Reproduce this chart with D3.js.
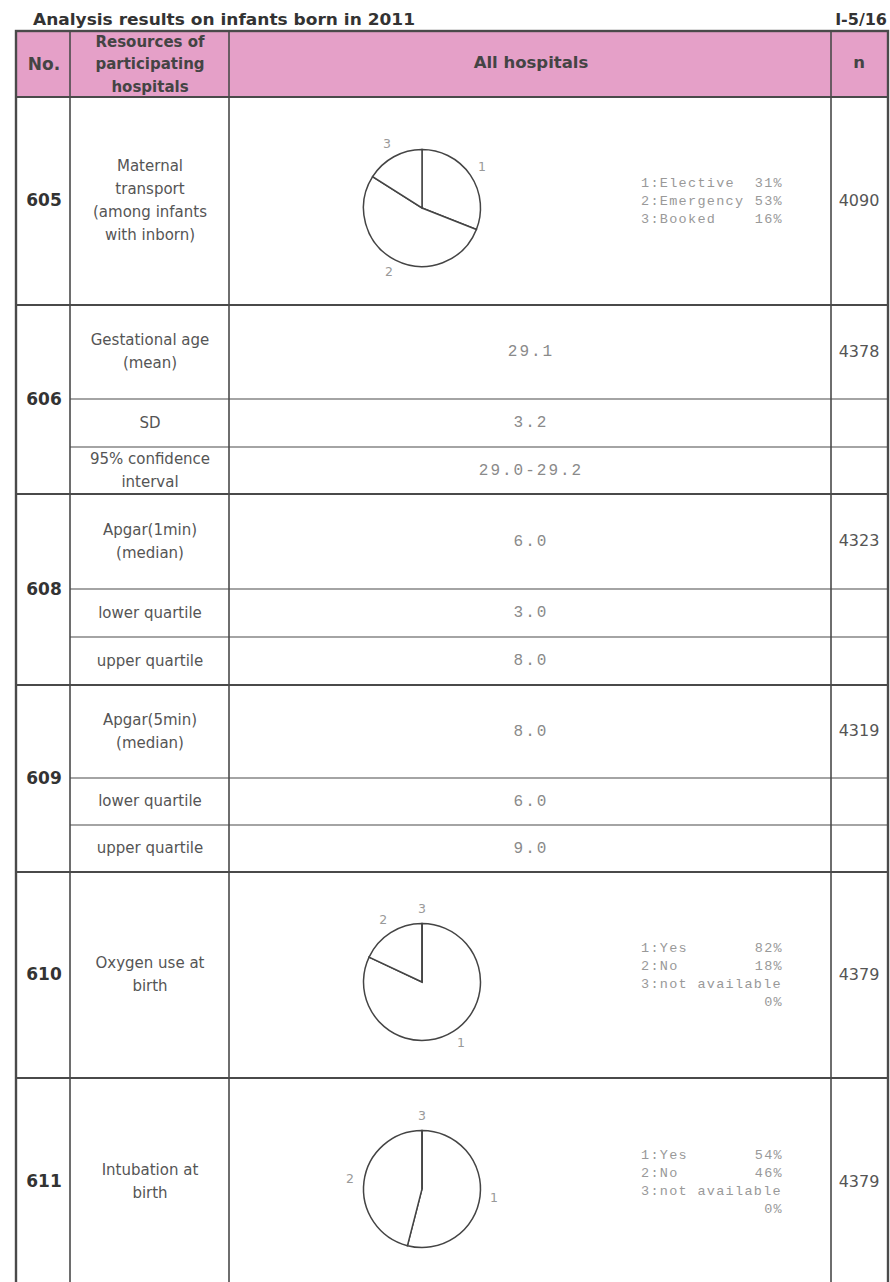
<html lang="en">
<head>
<meta charset="UTF-8">
<title>Analysis results on infants born in 2011</title>
<script src="https://d3js.org/d3.v7.min.js"></script>
<style>
  body { margin: 0; background: #fff; }
  svg text { font-family: "DejaVu Sans", Verdana, sans-serif; }
  .mono { font-family: "Liberation Mono", "Courier New", monospace !important; }
</style>
</head>
<body>
<div id="table"></div>
<script>
// ---- data ----
const groupNo = ["605", "606", "608", "609", "610", "611"];
const rowGroup = [0, 1, 1, 1, 2, 2, 2, 3, 3, 3, 4, 5];
const rowLabel = [
  ["Maternal", "transport", "(among infants", "with inborn)"],
  ["Gestational age", "(mean)"], ["SD"], ["95% confidence", "interval"],
  ["Apgar(1min)", "(median)"], ["lower quartile"], ["upper quartile"],
  ["Apgar(5min)", "(median)"], ["lower quartile"], ["upper quartile"],
  ["Oxygen use at", "birth"], ["Intubation at", "birth"]
];
const rowValue = [null, "29.1", "3.2", "29.0-29.2", "6.0", "3.0", "8.0", "8.0", "6.0", "9.0", null, null];
const rowN = ["4090", "4378", "", "", "4323", "", "", "4319", "", "", "4379", "4379"];

const transportCats = ["Elective", "Emergency", "Booked"];
const transportPct = [31, 53, 16];
const oxygenCats = ["Yes", "No", "not available"];
const oxygenPct = [82, 18, 0];
const intubationCats = ["Yes", "No", "not available"];
const intubationPct = [54, 46, 0];

// which rows carry a pie
const pieRows = { 0: [transportCats, transportPct], 10: [oxygenCats, oxygenPct], 11: [intubationCats, intubationPct] };

// ---- layout ----
const W = 890, H = 1282;
const colX = [16, 70, 229, 831, 888];
const headTop = 31, headBottom = 97;
const rowHeights = [208, 94, 48, 47, 95, 48, 48, 93, 47, 47, 206, 208];

const svg = d3.select("#table").append("svg")
  .attr("width", W).attr("height", H);

// row edges from cumulative heights
const edges = [headBottom];
rowHeights.forEach(h => edges.push(edges[edges.length - 1] + h));
const rowTop = i => edges[i], rowBot = i => edges[i + 1];
const rowMid = i => (edges[i] + edges[i + 1]) / 2;

// title
svg.append("text")
  .attr("x", 33).attr("y", 25)
  .attr("textLength", 382).attr("lengthAdjust", "spacingAndGlyphs")
  .style("font-size", "16.5px").style("font-weight", "bold").style("fill", "#333")
  .text("Analysis results on infants born in 2011");
svg.append("text")
  .attr("x", 887).attr("y", 25).attr("text-anchor", "end")
  .style("font-size", "16px").style("font-weight", "bold").style("fill", "#333")
  .text("I-5/16");

// header
svg.append("rect")
  .attr("x", colX[0]).attr("y", headTop)
  .attr("width", colX[4] - colX[0]).attr("height", headBottom - headTop)
  .style("fill", "#e5a0c8");

const head = svg.append("g").style("font-weight", "bold").style("fill", "#444");
head.append("text").attr("x", 44).attr("y", 65).attr("text-anchor", "middle")
  .attr("dominant-baseline", "middle").style("font-size", "17px").text("No.");
["Resources of", "participating", "hospitals"].forEach((t, k) => {
  head.append("text").attr("x", 150).attr("y", 42 + k * 22.5).attr("text-anchor", "middle")
    .attr("dominant-baseline", "middle").style("font-size", "15px").text(t);
});
head.append("text").attr("x", 531).attr("y", 63).attr("text-anchor", "middle")
  .attr("dominant-baseline", "middle").style("font-size", "16.5px").text("All hospitals");
head.append("text").attr("x", 859).attr("y", 63).attr("text-anchor", "middle")
  .attr("dominant-baseline", "middle").style("font-size", "16.5px").text("n");

// group numbers
groupNo.forEach((no, g) => {
  const rows = rowGroup.map((v, i) => v === g ? i : -1).filter(i => i >= 0);
  const y0 = rowTop(rows[0]), y1 = rowBot(rows[rows.length - 1]);
  svg.append("text")
    .attr("x", 44).attr("y", (y0 + y1) / 2)
    .attr("text-anchor", "middle").attr("dominant-baseline", "middle")
    .style("font-size", "17px").style("font-weight", "bold").style("fill", "#333")
    .text(no);
});

// row labels, values, n
rowLabel.forEach((lines, i) => {
  const mid = rowMid(i);
  lines.forEach((t, k) => {
    svg.append("text")
      .attr("x", 150).attr("y", mid + (k - (lines.length - 1) / 2) * 23)
      .attr("text-anchor", "middle").attr("dominant-baseline", "middle")
      .style("font-size", "15px").style("fill", "#555")
      .text(t);
  });
  if (rowValue[i] !== null) {
    svg.append("text").attr("class", "mono")
      .attr("x", 531).attr("y", mid)
      .attr("text-anchor", "middle").attr("dominant-baseline", "middle")
      .style("font-size", "16px").style("letter-spacing", "2px").style("fill", "#8a8a8a")
      .text(rowValue[i]);
  }
  if (rowN[i]) {
    svg.append("text")
      .attr("x", 859).attr("y", mid)
      .attr("text-anchor", "middle").attr("dominant-baseline", "middle")
      .style("font-size", "16px").style("fill", "#555")
      .text(rowN[i]);
  }
});

// pies with legends
const pie = d3.pie().sort(null);
const r = 58.5;
const arc = d3.arc().innerRadius(0).outerRadius(r);
const labelArc = d3.arc().innerRadius(r + 14).outerRadius(r + 14);

Object.entries(pieRows).forEach(([row, [cats, pct]]) => {
  const i = +row, mid = rowMid(i);
  const g = svg.append("g").attr("transform", `translate(422, ${mid + 7})`);
  const slices = pie(pct);
  g.selectAll("path").data(slices).join("path")
    .attr("d", arc)
    .style("fill", "#fff").style("stroke", "#444").style("stroke-width", 1.5);
  g.selectAll("text").data(slices).join("text")
    .attr("transform", d => `translate(${labelArc.centroid(d)})`)
    .attr("text-anchor", "middle").attr("dominant-baseline", "middle")
    .style("font-size", "12.5px").style("fill", "#999")
    .text((d, k) => k + 1);

  // legend lines: long names push their percentage to the next line
  const lines = [];
  cats.forEach((c, k) => {
    const label = (k + 1) + ":" + c;
    if (label.length > 12) { lines.push([label, ""]); lines.push(["", pct[k] + "%"]); }
    else lines.push([label, pct[k] + "%"]);
  });
  const leg = svg.append("g").attr("class", "mono")
    .style("font-size", "13.5px").style("letter-spacing", "1.3px").style("fill", "#999");
  lines.forEach(([a, b], k) => {
    const y = mid + (k - (lines.length - 1) / 2) * 18;
    if (a) leg.append("text").attr("class", "mono").attr("x", 641).attr("y", y)
      .attr("dominant-baseline", "middle").text(a);
    if (b) leg.append("text").attr("class", "mono").attr("x", 783).attr("y", y)
      .attr("text-anchor", "end").attr("dominant-baseline", "middle").text(b);
  });
});

// grid lines
const grid = svg.append("g").style("stroke", "#4a4a4a").style("fill", "none");
rowLabel.forEach((_, i) => {
  if (i === 0) return;
  const newGroup = rowGroup[i] !== rowGroup[i - 1];
  grid.append("line")
    .attr("x1", newGroup ? colX[0] : colX[1]).attr("x2", colX[4])
    .attr("y1", rowTop(i)).attr("y2", rowTop(i))
    .style("stroke-width", newGroup ? 2.2 : 1.2);
});
grid.append("line").attr("x1", colX[0]).attr("x2", colX[4])
  .attr("y1", headBottom).attr("y2", headBottom).style("stroke-width", 2.2);
colX.slice(1, 4).forEach(x => {
  grid.append("line").attr("x1", x).attr("x2", x)
    .attr("y1", headTop).attr("y2", edges[edges.length - 1]).style("stroke-width", 1.6);
});
grid.append("rect")
  .attr("x", colX[0]).attr("y", headTop)
  .attr("width", colX[4] - colX[0]).attr("height", edges[edges.length - 1] - headTop)
  .style("stroke-width", 2.4);
</script>
</body>
</html>
